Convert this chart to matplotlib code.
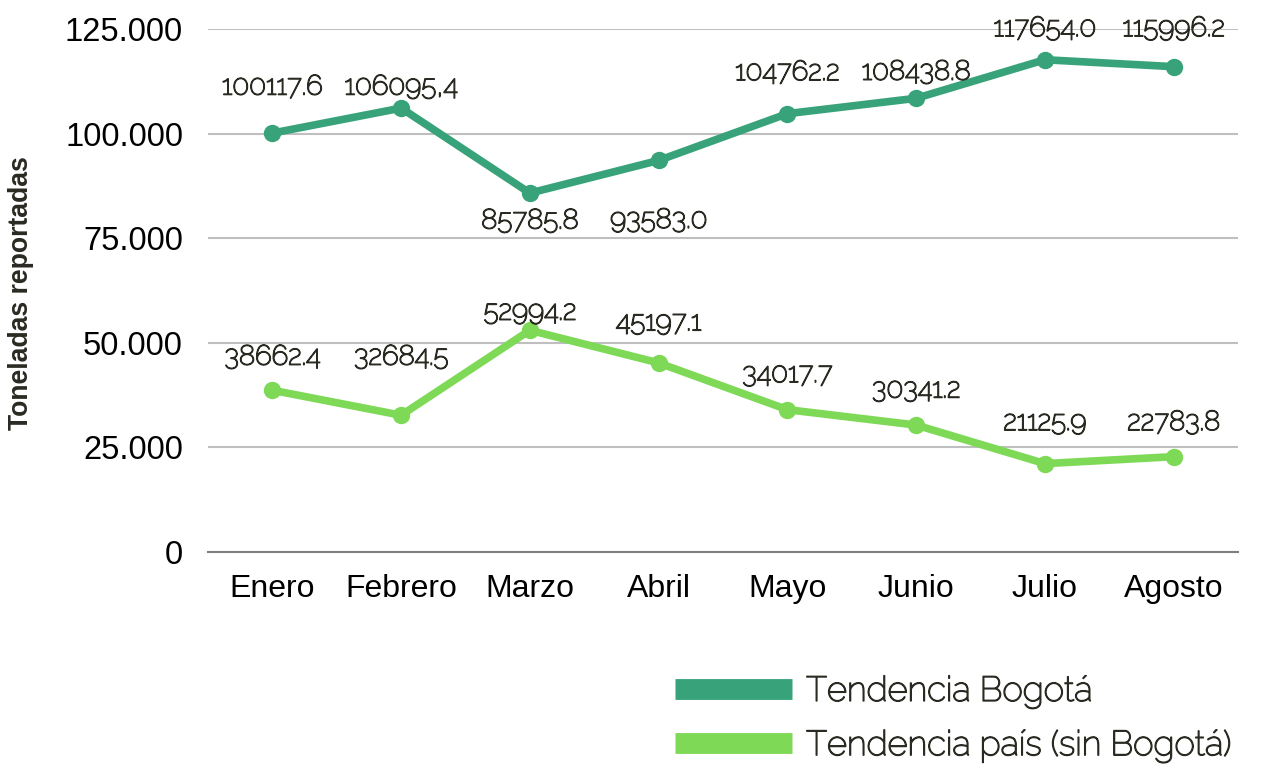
import matplotlib
matplotlib.use("Agg")
import matplotlib.pyplot as plt
import matplotlib.patheffects as pe
from matplotlib.lines import Line2D
from matplotlib.ticker import FuncFormatter

meses = ['Enero', 'Febrero', 'Marzo', 'Abril', 'Mayo', 'Junio', 'Julio', 'Agosto']
bogota = [100117.6, 106095.4, 85785.8, 93583.0, 104762.2, 108438.8, 117654.0, 115996.2]
pais = [38662.4, 32684.5, 52994.2, 45197.1, 34017.7, 30341.2, 21125.9, 22783.8]
etiquetas_bogota = ['100117.6', '106095,4', '85785.8', '93583.0', '104762.2', '108438.8', '117654.0', '115996.2']
etiquetas_pais = ['38662.4', '32684.5', '52994.2', '45197.1', '34017.7', '30341.2', '21125.9', '22783.8']

# label offsets in pixels (above = positive)
offs_bogota = [46, 21, -28, -60, 41, 26, 31, 38]
offs_pais = [33, 58, 18, 40, 35, 35, 41, 34]

color_bog = '#38a37a'
color_pais = '#7ed957'
color_txt = '#2b2a22'

# Raleway here is the thin cut, a thin stroke brings it near the regular weight
grueso = [pe.withStroke(linewidth=1.0, foreground=color_txt)]

fig = plt.figure(figsize=(12.66, 7.65), dpi=100)
ax = fig.add_axes([208 / 1266, 1 - 552 / 765, 1030 / 1266, 523 / 765])

x = list(range(len(meses)))
ax.plot(x, bogota, color=color_bog, lw=5.5, marker='o', ms=11.5, solid_joinstyle='round', zorder=3)
ax.plot(x, pais, color=color_pais, lw=5.5, marker='o', ms=11.5, solid_joinstyle='round', zorder=3)

lbl_font = dict(family=['Raleway', 'Lato', 'DejaVu Sans'], fontsize=20, color=color_txt)
for i in x:
    ax.annotate(etiquetas_bogota[i], (i, bogota[i]), xytext=(0, offs_bogota[i] * 0.72),
                textcoords='offset points', ha='center', va='center', zorder=4,
                path_effects=grueso, **lbl_font)
    ax.annotate(etiquetas_pais[i], (i, pais[i]), xytext=(0, offs_pais[i] * 0.72),
                textcoords='offset points', ha='center', va='center', zorder=4,
                path_effects=grueso, **lbl_font)

ax.set_xlim(-0.5, 7.5)
ax.set_ylim(0, 125000)
ax.set_yticks([0, 25000, 50000, 75000, 100000, 125000])
ax.yaxis.set_major_formatter(FuncFormatter(lambda v, p: '0' if v == 0 else f'{int(v):,}'.replace(',', '.')))
ax.set_xticks(x)
ax.set_xticklabels(meses)
ax.grid(axis='y', color='#bfbfbf', lw=1.5, zorder=0)
ax.set_axisbelow(True)
for s in ['top', 'right', 'left']:
    ax.spines[s].set_visible(False)
ax.spines['bottom'].set_color('#7f7f7f')
ax.spines['bottom'].set_linewidth(1.5)
ax.tick_params(axis='y', length=0, labelsize=23.5, labelcolor='black', pad=18)
ax.tick_params(axis='x', length=0, labelsize=23, labelcolor='black', pad=16)
for t in ax.get_xticklabels() + ax.get_yticklabels():
    t.set_family(['Liberation Sans', 'DejaVu Sans'])

fig.text(21 / 1266, 1 - 293 / 765, 'Toneladas reportadas', rotation=90, ha='center', va='center',
         fontsize=19.2, weight='bold', color=color_txt, family=['Liberation Sans', 'DejaVu Sans'])

handles = [Line2D([], [], color=color_bog, lw=15, solid_capstyle='butt'),
           Line2D([], [], color=color_pais, lw=15, solid_capstyle='butt')]
leg = fig.legend(handles, ['Tendencia Bogotá', 'Tendencia país (sin Bogotá)'],
                 loc='center left', bbox_to_anchor=(644 / 1266, 1 - 719 / 765), frameon=False,
                 prop={'family': ['Raleway', 'Lato', 'DejaVu Sans'], 'size': 25},
                 handlelength=3.35, handletextpad=0.42, labelspacing=0.58)
for t in leg.get_texts():
    t.set_color(color_txt)
    t.set_path_effects([pe.withStroke(linewidth=1.0, foreground=color_txt)])

fig.savefig('out.png', dpi=100)
